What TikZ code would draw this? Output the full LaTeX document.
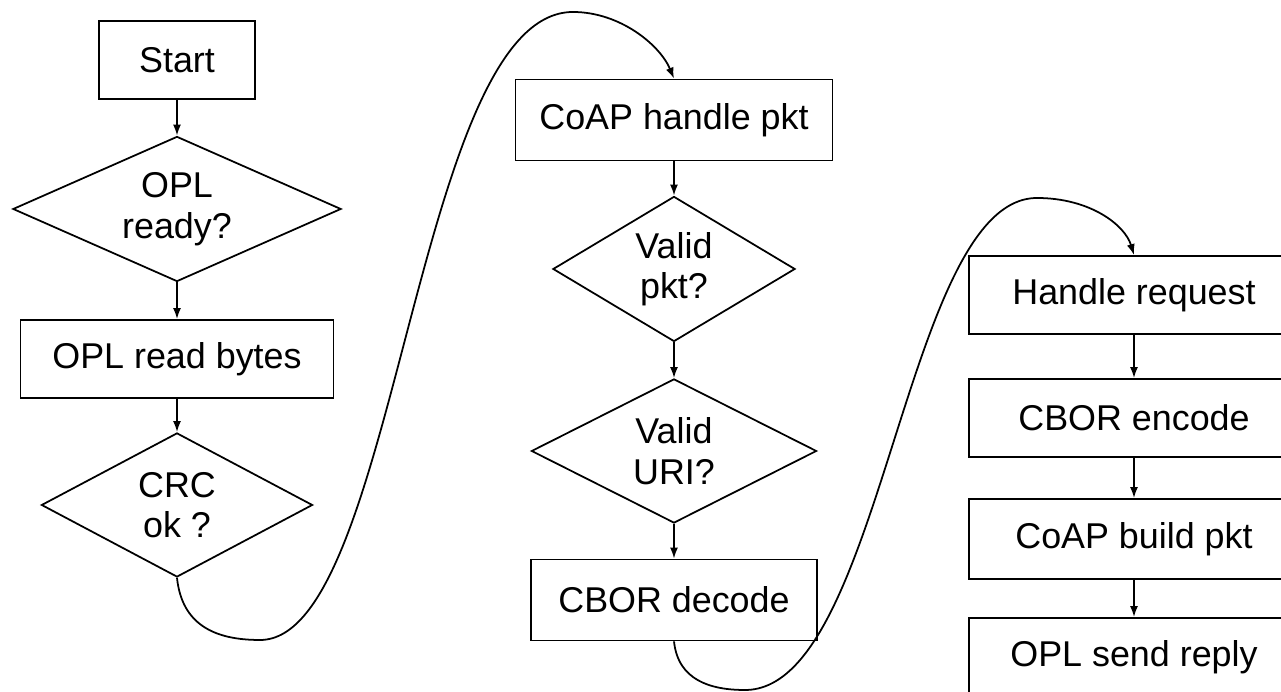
\documentclass[tikz,border=0pt]{standalone}
\usepackage{fontspec}
\setmainfont{Liberation Sans}
\usetikzlibrary{shapes.geometric,arrows.meta}

\begin{document}
\begin{tikzpicture}[x=0.01cm, y=-0.01cm, line width=0.5pt,
  box/.style={draw, rectangle, inner sep=0pt, minimum height=0.78cm, font=\fontsize{10.2}{11.5}\selectfont},
  decision/.style={draw, diamond, aspect=2, inner sep=0pt, align=center, font=\fontsize{10.2}{11.5}\selectfont},
  flow/.style={-{Latex[length=1.1mm,width=0.8mm]}}]
\useasboundingbox (0,0) rectangle (1281,692);
\clip (0,0) rectangle (1281,692);
%receive side
\node[box, minimum width=1.56cm] (start) at (177,60) {Start};
\node[decision, minimum width=3.28cm, minimum height=1.45cm] (ready) at (177,209) {OPL\\ready?};
\node[box, minimum width=3.13cm] (read) at (177,359) {OPL read bytes};
\node[decision, minimum width=2.71cm, minimum height=1.44cm] (crc) at (177,505) {CRC\\ok ?};
%coap side
\node[box, minimum width=3.17cm, minimum height=0.81cm] (handle) at (674,120) {CoAP handle pkt};
\node[decision, minimum width=2.42cm, minimum height=1.45cm] (validpkt) at (674,269) {Valid\\pkt?};
\node[decision, minimum width=2.85cm, minimum height=1.44cm] (validuri) at (674,451) {Valid\\URI?};
\node[box, minimum width=2.86cm, minimum height=0.81cm] (decode) at (674,600) {CBOR decode};
%reply side
\def\RW{3.3cm}
\node[box, minimum width=\RW] (request) at (1134,295) {Handle request};
\node[box, minimum width=\RW] (encode) at (1134,418) {CBOR encode};
\node[box, minimum width=\RW, minimum height=0.8cm] (build) at (1134,539) {CoAP build pkt};
\node[box, minimum width=\RW] (reply) at (1134,657) {OPL send reply};
%straight arrows
\draw[flow] (start.south) -- (ready.north);
\draw[flow] (ready.south) -- (read.north);
\draw[flow] (read.south) -- (crc.north);
\draw[flow] (handle.south) -- (validpkt.north);
\draw[flow] (validpkt.south) -- (validuri.north);
\draw[flow] (validuri.south) -- (decode.north);
\draw[flow] (request.south) -- (encode.north);
\draw[flow] (encode.south) -- (build.north);
\draw[flow] (build.south) -- (reply.north);
%jumps between columns
\draw[flow] (crc.south) .. controls (182,625) and (215,640) .. (260,640)
  .. controls (397,640) and (415,12) .. (573,12)
  .. controls (620,12) and (660,45) .. (handle.north);
\draw[flow] (decode.south) .. controls (678,680) and (710,690) .. (745,690)
  .. controls (883,690) and (904,198) .. (1037,198)
  .. controls (1090,198) and (1125,225) .. (request.north);
\end{tikzpicture}
\end{document}
